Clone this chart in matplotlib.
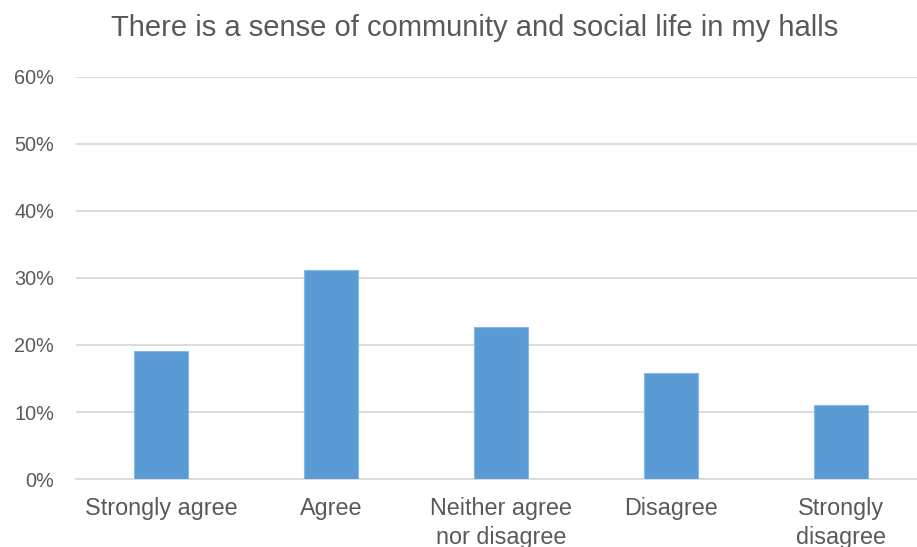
import matplotlib
matplotlib.use("Agg")
import matplotlib.pyplot as plt
from matplotlib.ticker import PercentFormatter

plt.rcParams['font.family'] = ['Liberation Sans', 'DejaVu Sans']

# survey responses, share of students
categories = ["Strongly agree", "Agree", "Neither agree\nnor disagree", "Disagree", "Strongly\ndisagree"]
shares = [19.1, 31.1, 22.7, 15.8, 11.0]
yticks = [0, 10, 20, 30, 40, 50, 60]

fig = plt.figure(figsize=(9.17, 5.47), dpi=100)
ax = fig.add_axes([0.083, 0.124, 0.927, 0.736])

ax.bar(range(len(categories)), shares, width=0.32, color="#5b9bd5",
       edgecolor="#8ab6e3", linewidth=0.8, zorder=3)

ax.set_xlim(-0.5, 4.5)
ax.set_ylim(0, 60)
ax.set_yticks(yticks)
ax.yaxis.set_major_formatter(PercentFormatter(decimals=0))
ax.set_xticks(range(len(categories)))
ax.set_xticklabels(categories, linespacing=1.3)
ax.tick_params(axis="both", length=0, colors="#595959")
ax.tick_params(axis="x", pad=13, labelsize=16.8)
ax.tick_params(axis="y", pad=16, labelsize=14.3)

ax.grid(axis="y", color="#d9d9d9", linewidth=1.3, zorder=0)
for side in ["top", "right", "left"]:
    ax.spines[side].set_visible(False)
ax.spines["bottom"].set_color("#d9d9d9")
ax.spines["bottom"].set_linewidth(1.3)

fig.text(0.518, 0.934, "There is a sense of community and social life in my halls",
         ha="center", va="baseline", fontsize=21, color="#595959")

fig.savefig("out.png", dpi=100)
plt.close(fig)
